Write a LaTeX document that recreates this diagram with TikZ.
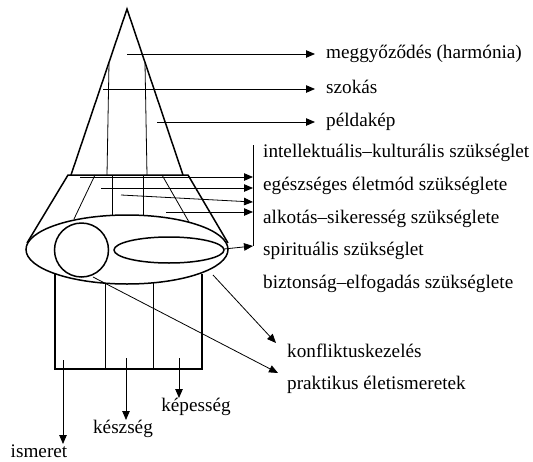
\documentclass[tikz,border=0pt]{standalone}
\usepackage{fontspec}
\setmainfont{Liberation Serif}
\usetikzlibrary{
    arrows.meta,
    positioning,
    calc
}

\begin{document}
\begin{tikzpicture}[
    x=1pt,
    y=-1pt,
    outline/.style={
        draw=black,
        line width=1.5pt
    },
    thinline/.style={
        draw=black,
        line width=0.8pt
    },
    flowarrow/.style={
        -{Triangle[length=9pt,width=7.5pt]},
        line width=0.8pt,
        draw=black
    },
    sidelabel/.style={
        anchor=west,
        inner sep=0pt,
        font=\fontsize{19.2}{23}\selectfont,
        text height=13pt,
        text depth=4.5pt
    },
    footlabel/.style={
        anchor=north,
        inner sep=0pt,
        font=\fontsize{19.2}{23}\selectfont,
        text height=13pt,
        text depth=4.5pt
    }
]

\useasboundingbox (0,0) rectangle (533,461);

% cone
\draw[outline] (71,175) -- (127,9) -- (183,175);
\draw[thinline] (109,63) -- (107,175);
\draw[thinline] (145,63) -- (147,175);

% frustum
\draw[outline] (27,243) -- (68,175) -- (188,175) -- (228,243);
\draw[thinline] (95,175) -- (74,219);
\draw[thinline] (112,175) -- (112,215);
\draw[thinline] (143,175) -- (143,215);
\draw[thinline] (162,175) -- (189,222);

% ellipses
\draw[outline] (127,249.5) ellipse [x radius=101, y radius=34.5];
\draw[outline] (81.5,250) circle [radius=27];
\draw[outline] (169,250) ellipse [x radius=55, y radius=13];

% block
\draw[outline] (55,274) -- (55,369) -- (202,369) -- (202,274);
\draw[thinline] (105,283) -- (105,369);
\draw[thinline] (153,283) -- (153,369);

% labels
\node[sidelabel] (meggy) at (326,54) {meggyőződés (harmónia)};
\node[sidelabel] (szokas) at (326,89) {szokás};
\node[sidelabel] (pelda) at (326,122) {példakép};

\node[sidelabel] (intel) at (263,153) {intellektuális–kulturális szükséglet};
\node[
    sidelabel,
    anchor=north west,
    below right=15pt and 0pt of intel.south west
] (egesz) {egészséges életmód szükséglete};
\node[
    sidelabel,
    anchor=north west,
    below right=15pt and 0pt of egesz.south west
] (alkot) {alkotás–sikeresség szükséglete};
\node[
    sidelabel,
    anchor=north west,
    below right=15pt and 0pt of alkot.south west
] (spirit) {spirituális szükséglet};
\node[
    sidelabel,
    anchor=north west,
    below right=15pt and 0pt of spirit.south west
] (bizton) {biztonság–elfogadás szükséglete};

\node[sidelabel] (konfl) at (287,353) {konfliktuskezelés};
\node[sidelabel] (prakt) at (287,385) {praktikus életismeretek};

\node[footlabel] (ismeret) at (39,444) {ismeret};
\node[footlabel] (keszseg) at (123,420) {készség};
\node[footlabel] (kepesseg) at (196,398) {képesség};

% arrow ends
\coordinate (meggy0) at (127,54);
\coordinate (szokas0) at (103,89);
\coordinate (pelda0) at (157,122);
\coordinate (bartop) at (253,145);
\coordinate (barbot) at (253,246);
\coordinate (need1) at (80,177);
\coordinate (need2) at (101,188);
\coordinate (need3) at (121,195);
\coordinate (need3tip) at (253,202);
\coordinate (need4) at (166,212);
\coordinate (need5) at (224,249);
\coordinate (konfl0) at (213,275);
\coordinate (konfltip) at (276,343);
\coordinate (prakt0) at (93,277);
\coordinate (prakttip) at (278,373);
\coordinate (ismeret0) at (63,360);
\coordinate (keszseg0) at (126,358);
\coordinate (kepesseg0) at (179,358);

\draw[thinline] (bartop) -- (barbot);

\draw[flowarrow, shorten >=11pt] (meggy0) -- (meggy0 -| meggy.west);
\draw[flowarrow, shorten >=11pt] (szokas0) -- (szokas0 -| szokas.west);
\draw[flowarrow, shorten >=11pt] (pelda0) -- (pelda0 -| pelda.west);

\draw[flowarrow] (need1) -- (need1 -| bartop);
\draw[flowarrow] (need2) -- (need2 -| bartop);
\draw[flowarrow] (need3) -- (need3tip);
\draw[flowarrow] (need4) -- (need4 -| bartop);
\draw[flowarrow] (need5) -- (barbot);

\draw[flowarrow] (konfl0) -- (konfltip);
\draw[flowarrow] (prakt0) -- (prakttip);

\draw[flowarrow] (ismeret0) -- (ismeret0 |- ismeret.north);
\draw[flowarrow] (keszseg0) -- (keszseg0 |- keszseg.north);
\draw[flowarrow] (kepesseg0) -- (kepesseg0 |- kepesseg.north);

\end{tikzpicture}
\end{document}
